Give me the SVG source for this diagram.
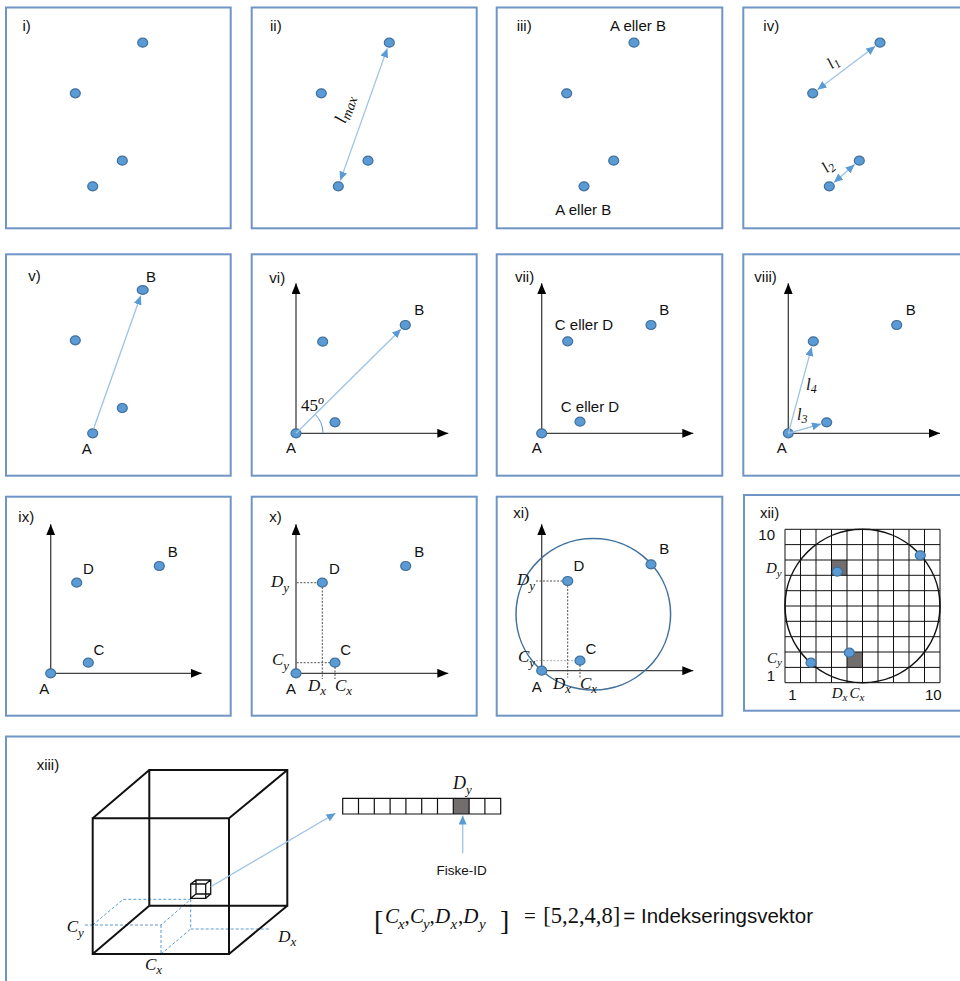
<svg xmlns="http://www.w3.org/2000/svg" width="960" height="981" viewBox="0 0 960 981">
<defs>
<style>
.frame{fill:#fff;stroke:#6f95c6;stroke-width:2}
.dot{fill:#5b9bd5;stroke:#41719c;stroke-width:1.2}
.lbl{font-family:"Liberation Sans",Arial,sans-serif;font-size:15px;fill:#111}
.math{font-family:"Liberation Serif","DejaVu Serif",serif;font-style:italic;fill:#111}
.num{font-family:"Liberation Serif","DejaVu Serif",serif;fill:#111}
.axis{stroke:#404040;stroke-width:1.3;fill:none;marker-end:url(#ax)}
.conn{stroke:#9dc3e6;stroke-width:1.3;fill:none;marker-end:url(#bh)}
.conn2{stroke:#9dc3e6;stroke-width:1.3;fill:none;marker-start:url(#bh);marker-end:url(#bh)}
.dash{stroke:#222;stroke-width:0.8;stroke-dasharray:2 1.5;fill:none}
.bdash{stroke:#5b9bd5;stroke-width:1;stroke-dasharray:3 2;fill:none}
.grid{stroke:#111;stroke-width:1;fill:none}
.cube{stroke:#111;stroke-width:2;fill:none}
.shade{fill:#736e6e}
</style>
<marker id="bh" viewBox="0 0 9 8" refX="9" refY="4" markerWidth="9" markerHeight="8" markerUnits="userSpaceOnUse" orient="auto-start-reverse"><path d="M0,0 L9,4 L0,8 z" fill="#5b9bd5"/></marker>
<marker id="ax" viewBox="0 0 11 9" refX="11" refY="4.5" markerWidth="11" markerHeight="9" markerUnits="userSpaceOnUse" orient="auto"><path d="M0,0 L11,4.5 L0,9 z" fill="#000"/></marker>
</defs>
<rect width="960" height="981" fill="#fff"/>

<g id="panel-i">
<rect class="frame" x="6" y="7.5" width="224.7" height="220.8"/>
<text class="lbl" x="22.5" y="31">i)</text>
<ellipse class="dot" cx="142.7" cy="42.7" rx="5" ry="4.5"/>
<ellipse class="dot" cx="75.3" cy="93.3" rx="5" ry="4.5"/>
<ellipse class="dot" cx="122.3" cy="160.7" rx="5" ry="4.5"/>
<ellipse class="dot" cx="92.7" cy="186.3" rx="5" ry="4.5"/>
</g>

<g id="panel-ii">
<rect class="frame" x="251.7" y="7.5" width="225" height="220.8"/>
<text class="lbl" x="270" y="31">ii)</text>
<ellipse class="dot" cx="389.3" cy="42.7" rx="5" ry="4.5"/>
<ellipse class="dot" cx="321.3" cy="93.3" rx="5" ry="4.5"/>
<ellipse class="dot" cx="368" cy="160.7" rx="5" ry="4.5"/>
<ellipse class="dot" cx="338.3" cy="186.3" rx="5" ry="4.5"/>
<text class="math" font-size="18" text-anchor="middle" transform="translate(350,111) rotate(-70.4)">l<tspan font-size="14" dy="3">max</tspan></text>
</g>

<g id="panel-iii">
<rect class="frame" x="496.7" y="7.5" width="225.6" height="220.8"/>
<text class="lbl" x="516.7" y="31">iii)</text>
<text class="lbl" x="638" y="31" text-anchor="middle">A eller B</text>
<text class="lbl" x="583.3" y="215.4" text-anchor="middle">A eller B</text>
<ellipse class="dot" cx="634" cy="42.7" rx="5" ry="4.5"/>
<ellipse class="dot" cx="566.7" cy="93.3" rx="5" ry="4.5"/>
<ellipse class="dot" cx="613.7" cy="160.7" rx="5" ry="4.5"/>
<ellipse class="dot" cx="584" cy="186.3" rx="5" ry="4.5"/>
</g>

<g id="panel-iv">
<rect class="frame" x="743.3" y="7.5" width="240" height="220.8"/>
<text class="lbl" x="763.3" y="31">iv)</text>
<ellipse class="dot" cx="880" cy="42.7" rx="5" ry="4.5"/>
<ellipse class="dot" cx="812.7" cy="93.3" rx="5" ry="4.5"/>
<ellipse class="dot" cx="859.3" cy="160.7" rx="5" ry="4.5"/>
<ellipse class="dot" cx="829.3" cy="186.3" rx="5" ry="4.5"/>
<text class="math" font-size="16" text-anchor="middle" transform="translate(836,66) rotate(-37)">l<tspan font-size="12" dy="3">1</tspan></text>
<text class="math" font-size="16" text-anchor="middle" transform="translate(831,170) rotate(-40)">l<tspan font-size="12" dy="3">2</tspan></text>
</g>

<g id="panel-v">
<rect class="frame" x="6" y="254.3" width="224.7" height="221.4"/>
<text class="lbl" x="28.3" y="280.5">v)</text>
<text class="lbl" x="151" y="282" text-anchor="middle">B</text>
<text class="lbl" x="86.7" y="454.4" text-anchor="middle">A</text>
<ellipse class="dot" cx="142.7" cy="290" rx="5.5" ry="4.3"/>
<ellipse class="dot" cx="75.3" cy="340.3" rx="5" ry="4.5"/>
<ellipse class="dot" cx="122.3" cy="408" rx="5" ry="4.5"/>
<ellipse class="dot" cx="92.7" cy="433.3" rx="5" ry="4.5"/>
</g>

<g id="panel-vi">
<rect class="frame" x="251.7" y="254.3" width="225" height="221.4"/>
<text class="lbl" x="269.3" y="282.5">vi)</text>
<line class="axis" x1="296" y1="433.3" x2="296" y2="283.3"/>
<line class="axis" x1="296" y1="433.3" x2="448.3" y2="433.3"/>
<path d="M323,433.3 A27,27 0 0 0 315.1,414.2" fill="none" stroke="#5b9bd5" stroke-width="1"/>
<text class="num" x="301" y="411" font-size="17">45<tspan class="math" font-size="12" dy="-7">o</tspan></text>
<text class="lbl" x="419.3" y="315.4" text-anchor="middle">B</text>
<text class="lbl" x="291" y="452.7" text-anchor="middle">A</text>
<ellipse class="dot" cx="405.3" cy="325" rx="5" ry="4.5"/>
<ellipse class="dot" cx="322.7" cy="341.7" rx="5" ry="4.5"/>
<ellipse class="dot" cx="335" cy="422.3" rx="5" ry="4.5"/>
<ellipse class="dot" cx="296" cy="433.3" rx="5" ry="4.5"/>
</g>

<g id="panel-vii">
<rect class="frame" x="496.7" y="254.3" width="225.6" height="221.4"/>
<text class="lbl" x="515" y="281.5">vii)</text>
<line class="axis" x1="541.7" y1="433.3" x2="541.7" y2="283.3"/>
<line class="axis" x1="541.7" y1="433.3" x2="693.3" y2="433.3"/>
<text class="lbl" x="664.3" y="315.4" text-anchor="middle">B</text>
<text class="lbl" x="584" y="329.7" text-anchor="middle">C eller D</text>
<text class="lbl" x="590" y="412" text-anchor="middle">C eller D</text>
<text class="lbl" x="536.7" y="452.7" text-anchor="middle">A</text>
<ellipse class="dot" cx="651" cy="325" rx="5" ry="4.5"/>
<ellipse class="dot" cx="567.7" cy="341.3" rx="5" ry="4.5"/>
<ellipse class="dot" cx="580" cy="421.7" rx="5" ry="4.5"/>
<ellipse class="dot" cx="541.7" cy="433.3" rx="5" ry="4.5"/>
</g>

<g id="panel-viii">
<rect class="frame" x="743.3" y="254.3" width="240" height="221.4"/>
<text class="lbl" x="754.3" y="281.5">viii)</text>
<line class="axis" x1="788.3" y1="433.3" x2="788.3" y2="283.3"/>
<line class="axis" x1="788.3" y1="433.3" x2="940" y2="433.3"/>
<text class="lbl" x="910.7" y="315.4" text-anchor="middle">B</text>
<text class="lbl" x="781.7" y="452.7" text-anchor="middle">A</text>
<text class="math" x="806" y="390" font-size="17">l<tspan font-size="12" dy="3">4</tspan></text>
<text class="math" x="797" y="420" font-size="16" font-style="normal">l<tspan font-size="12" dy="3">3</tspan></text>
<ellipse class="dot" cx="896.7" cy="325" rx="5" ry="4.5"/>
<ellipse class="dot" cx="813.3" cy="341.3" rx="5" ry="4.5"/>
<ellipse class="dot" cx="826.7" cy="422.3" rx="5" ry="4.5"/>
<ellipse class="dot" cx="788.3" cy="433.3" rx="5" ry="4.5"/>
</g>

<g id="panel-ix">
<rect class="frame" x="6" y="496.7" width="224.7" height="219"/>
<text class="lbl" x="18.3" y="521.5">ix)</text>
<line class="axis" x1="50.7" y1="673.3" x2="50.7" y2="524.3"/>
<line class="axis" x1="50.7" y1="673.3" x2="201.7" y2="673.3"/>
<text class="lbl" x="44.3" y="693.7" text-anchor="middle">A</text>
<text class="lbl" x="88.3" y="573.7" text-anchor="middle">D</text>
<text class="lbl" x="172.7" y="557" text-anchor="middle">B</text>
<text class="lbl" x="99" y="654.7" text-anchor="middle">C</text>
<ellipse class="dot" cx="50.7" cy="673.3" rx="5" ry="4.5"/>
<ellipse class="dot" cx="76.7" cy="582.7" rx="5" ry="4.5"/>
<ellipse class="dot" cx="159.3" cy="566" rx="5" ry="4.5"/>
<ellipse class="dot" cx="88.3" cy="662.7" rx="5" ry="4.5"/>
</g>

<g id="panel-x">
<rect class="frame" x="251.7" y="496.7" width="225" height="219"/>
<text class="lbl" x="269.3" y="521.5">x)</text>
<path class="dash" d="M296.7,582.7 H318 M322.3,587 V679 M296.7,662.7 H330 M335,667 V679"/>
<line class="axis" x1="296" y1="673.3" x2="296" y2="524.3"/>
<line class="axis" x1="296" y1="673.3" x2="448.3" y2="673.3"/>
<text class="lbl" x="291" y="693.7" text-anchor="middle">A</text>
<text class="lbl" x="334.3" y="573.7" text-anchor="middle">D</text>
<text class="lbl" x="419.3" y="557" text-anchor="middle">B</text>
<text class="lbl" x="345.7" y="654.7" text-anchor="middle">C</text>
<text class="math" x="271" y="587" font-size="17">D<tspan font-size="13" dy="5">y</tspan></text>
<text class="math" x="272" y="665" font-size="17">C<tspan font-size="13" dy="5">y</tspan></text>
<text class="math" x="308" y="690.7" font-size="17">D<tspan font-size="13" dy="4">x</tspan></text>
<text class="math" x="335" y="690.7" font-size="17">C<tspan font-size="13" dy="4">x</tspan></text>
<ellipse class="dot" cx="296" cy="673.3" rx="5" ry="4.5"/>
<ellipse class="dot" cx="322.3" cy="582.7" rx="5" ry="4.5"/>
<ellipse class="dot" cx="405.7" cy="566" rx="5" ry="4.5"/>
<ellipse class="dot" cx="335" cy="662.7" rx="5" ry="4.5"/>
</g>

<g id="panel-xi">
<rect class="frame" x="496.7" y="496.7" width="225.6" height="219"/>
<text class="lbl" x="513.3" y="518">xi)</text>
<path class="dash" d="M536,581 H563 M567.7,585.5 V677.7 M580,665 V677.7"/>
<path d="M536,660.7 H575" stroke="#999" stroke-width="0.8" stroke-dasharray="2 1.5" fill="none"/>
<line class="axis" x1="541.7" y1="670.7" x2="541.7" y2="524.3"/>
<line class="axis" x1="541.7" y1="670.7" x2="693.3" y2="670.7"/>
<ellipse cx="593.3" cy="614.2" rx="77.3" ry="75.8" fill="none" stroke="#41719c" stroke-width="1.5"/>
<text class="lbl" x="664.3" y="553.7" text-anchor="middle">B</text>
<text class="lbl" x="579" y="571" text-anchor="middle">D</text>
<text class="lbl" x="591" y="653.7" text-anchor="middle">C</text>
<text class="lbl" x="536.7" y="692" text-anchor="middle">A</text>
<text class="math" x="517" y="585" font-size="17">D<tspan font-size="13" dy="5">y</tspan></text>
<text class="math" x="518" y="662" font-size="17">C<tspan font-size="13" dy="5">y</tspan></text>
<text class="math" x="553" y="689" font-size="17">D<tspan font-size="13" dy="4">x</tspan></text>
<text class="math" x="580" y="689" font-size="17">C<tspan font-size="13" dy="4">x</tspan></text>
<ellipse class="dot" cx="541.7" cy="670.7" rx="5" ry="4.5"/>
<ellipse class="dot" cx="567.7" cy="581" rx="5" ry="4.5"/>
<ellipse class="dot" cx="651" cy="564.3" rx="5" ry="4.5"/>
<ellipse class="dot" cx="580" cy="660.7" rx="5" ry="4.5"/>
</g>

<g id="panel-xii">
<rect class="frame" x="744" y="495" width="240" height="215.7"/>
<text class="lbl" x="760" y="518">xii)</text>
<rect class="shade" x="831.5" y="560" width="15.5" height="15.3"/>
<rect class="shade" x="847" y="652" width="15.5" height="15.4"/>
<path class="grid" d="M785,529.3 V682.7 M800.5,529.3 V682.7 M816,529.3 V682.7 M831.5,529.3 V682.7 M847,529.3 V682.7 M862.5,529.3 V682.7 M878,529.3 V682.7 M893.5,529.3 V682.7 M909,529.3 V682.7 M924.5,529.3 V682.7 M940,529.3 V682.7 M785,529.3 H940 M785,544.6 H940 M785,560 H940 M785,575.3 H940 M785,590.7 H940 M785,606 H940 M785,621.3 H940 M785,636.7 H940 M785,652 H940 M785,667.4 H940 M785,682.7 H940"/>
<ellipse cx="862.5" cy="606" rx="77.5" ry="76.7" fill="none" stroke="#111" stroke-width="1.6"/>
<text class="lbl" x="758.3" y="540">10</text>
<text class="lbl" x="766.7" y="680.5">1</text>
<text class="lbl" x="788.3" y="700">1</text>
<text class="lbl" x="925" y="700">10</text>
<text class="math" x="766" y="573.3" font-size="15">D<tspan font-size="11" dy="4">y</tspan></text>
<text class="math" x="767" y="663" font-size="15">C<tspan font-size="11" dy="3">y</tspan></text>
<text class="math" x="831.7" y="698.3" font-size="15">D<tspan font-size="11" dy="3">x</tspan></text>
<text class="math" x="849.5" y="698.3" font-size="15">C<tspan font-size="11" dy="3">x</tspan></text>
<ellipse class="dot" cx="837.3" cy="571.7" rx="5" ry="4.5"/>
<ellipse class="dot" cx="849.3" cy="652.7" rx="5" ry="4.5"/>
<ellipse class="dot" cx="920.3" cy="555.3" rx="5" ry="4.5"/>
<ellipse class="dot" cx="811" cy="662.7" rx="5" ry="4.5"/>
</g>

<g id="panel-xiii">
<rect class="frame" x="6" y="736.5" width="1000" height="300"/>
<text class="lbl" x="36.7" y="770">xiii)</text>
<path class="bdash" d="M85,925 H161 M92.7,925 L123.3,899.3 H190.7 L161,925 M161,925 V954 M161,954 L190.7,929 M190.7,899.3 V929 M190.7,929 H270"/>
<path class="cube" d="M92.7,818.3 H229 V954 H92.7 Z M149.3,770 H287.3 V905.7 H149.3 Z M92.7,818.3 L149.3,770 M229,818.3 L287.3,770 M229,954 L287.3,905.7 M92.7,954 L149.3,905.7"/>
<path d="M190.7,884 H205.7 V898.3 H190.7 Z M196,880 H210.7 V894 H196 Z M190.7,884 L196,880 M205.7,884 L210.7,880 M205.7,898.3 L210.7,894 M190.7,898.3 L196,894" fill="none" stroke="#111" stroke-width="1.3"/>
<text class="math" x="66.7" y="931.7" font-size="17">C<tspan font-size="13" dy="5">y</tspan></text>
<text class="math" x="278.3" y="941.7" font-size="17">D<tspan font-size="13" dy="4">x</tspan></text>
<text class="math" x="145" y="970" font-size="17">C<tspan font-size="13" dy="4">x</tspan></text>
<g id="array">
<rect x="342.7" y="798.3" width="158" height="15.7" fill="#fff"/>
<rect class="shade" x="453.3" y="798.3" width="15.8" height="15.7"/>
<path d="M342.7,798.3 H500.7 V814 H342.7 Z M358.5,798.3 V814 M374.3,798.3 V814 M390.1,798.3 V814 M405.9,798.3 V814 M421.7,798.3 V814 M437.5,798.3 V814 M453.3,798.3 V814 M469.1,798.3 V814 M484.9,798.3 V814" fill="none" stroke="#111" stroke-width="1.2"/>
</g>
<text class="math" x="453" y="789.3" font-size="18">D<tspan font-size="13" dy="5">y</tspan></text>
<text class="lbl" x="461.7" y="874.5" text-anchor="middle" style="font-size:13.5px">Fiske-ID</text>
<g id="equation">
<text class="num" x="374" y="930" font-size="28">[</text>
<text class="math" x="385" y="923.3" font-size="21">C</text>
<text class="math" x="398" y="928.5" font-size="15">x</text>
<text class="num" x="404.5" y="923.3" font-size="21">,</text>
<text class="math" x="410" y="923.3" font-size="21">C</text>
<text class="math" x="423" y="928.5" font-size="15">y</text>
<text class="num" x="429.5" y="923.3" font-size="21">,</text>
<text class="math" x="435" y="923.3" font-size="21">D</text>
<text class="math" x="450.5" y="928.5" font-size="15">x</text>
<text class="num" x="458" y="923.3" font-size="21">,</text>
<text class="math" x="463.3" y="923.3" font-size="21">D</text>
<text class="math" x="479" y="928.5" font-size="15">y</text>
<text class="num" x="500" y="930" font-size="28">]</text>
<text class="num" x="530" y="923.3" font-size="21" text-anchor="middle">=</text>
<text class="num" x="543.3" y="923.3" font-size="22.5">[5,2,4,8]</text>
<text class="lbl" x="623.3" y="923.3" style="font-size:20.5px">= Indekseringsvektor</text>
</g>
</g>

<g id="connectors">
<line class="conn2" x1="340.3" y1="180.6" x2="387.3" y2="48.4"/>
<line class="conn2" x1="817.5" y1="89.7" x2="875.2" y2="46.3"/>
<line class="conn2" x1="833.9" y1="182.4" x2="854.7" y2="164.6"/>
<line class="conn" x1="93.5" y1="429" x2="140.7" y2="295.7"/>
<line class="conn" x1="296" y1="433.3" x2="401" y2="329.2"/>
<line class="conn" x1="788.3" y1="433.3" x2="811.7" y2="347.1"/>
<line class="conn" x1="788.3" y1="433.3" x2="820.9" y2="424"/>
<line class="conn" x1="210.7" y1="886.7" x2="335.5" y2="813.3"/>
<line class="conn" x1="462.7" y1="853.3" x2="462.7" y2="815.5"/>
</g>
</svg>
